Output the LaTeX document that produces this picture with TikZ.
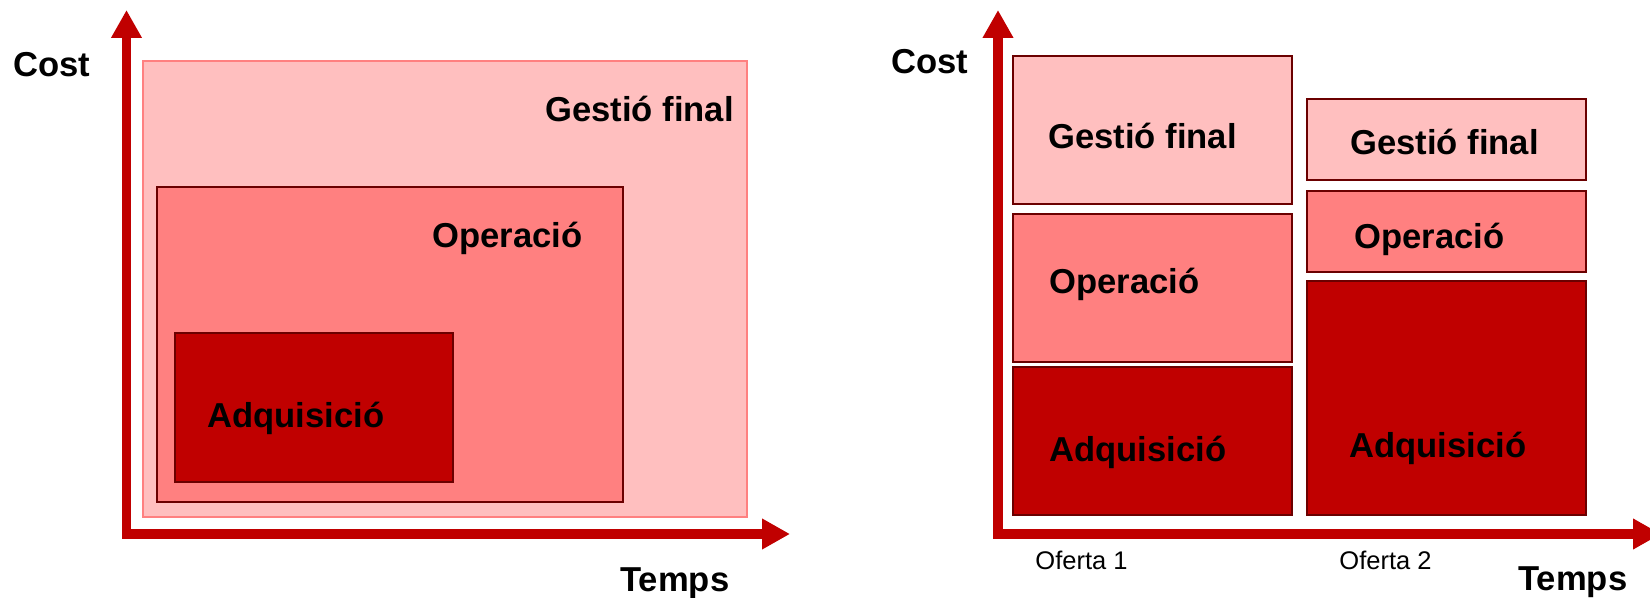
\documentclass[tikz,border=0pt]{standalone}
\usepackage{fontspec}
\setmainfont{Liberation Sans}
\usetikzlibrary{arrows.meta}
\definecolor{lightp}{HTML}{FFBFBF}
\definecolor{midp}{HTML}{FF8080}
\definecolor{darkr}{HTML}{C00000}
\definecolor{edge}{HTML}{6B0000}
\tikzset{
  axisline/.style={draw=darkr, line width=4.75pt, line join=miter,
    arrows={Triangle[length=14pt,width=14.5pt]-Triangle[length=14pt,width=14.5pt]}, darkr},
  lbl/.style={anchor=base west, inner sep=0pt, font=\fontsize{17.3pt}{20pt}\selectfont\bfseries},
  small/.style={anchor=base west, inner sep=0pt, font=\fontsize{12.75pt}{15pt}\selectfont},
  boxL/.style={fill=lightp, draw=edge, line width=0.6pt},
  boxM/.style={fill=midp, draw=edge, line width=0.6pt},
  boxD/.style={fill=darkr, draw=edge, line width=0.6pt},
}
\begin{document}
\begin{tikzpicture}[x=0.5pt,y=-0.5pt]
\useasboundingbox (0,0) rectangle (1650,598);
\clip (0,0) rectangle (1650,598);
% ---------------- left chart ----------------
\path[fill=lightp, draw=midp, line width=0.6pt] (143,61) rectangle (747,517);
\path[boxM] (157,187) rectangle (623,502);
\path[boxD] (175,333) rectangle (453,482);
\coordinate (LO) at (126.5,534);
\coordinate (LY) at (126.5,10);
\coordinate (LX) at (790,534);
\draw[axisline] (LY) -- (LO) -- (LX);
\node[lbl] (lcost) at (13,77) {Cost};
\node[lbl] (lgest) at (545,122) {Gestió final};
\node[lbl] (lop) at (432,248) {Operació};
\node[lbl] (lad) at (207,428) {Adquisició};
\node[lbl] (ltemps) at (620,591) {Temps};
% ---------------- right chart ----------------
\path[boxL] (1013,56) rectangle (1292,204);
\path[boxM] (1013,214) rectangle (1292,362);
\path[boxD] (1013,367) rectangle (1292,515);
\path[boxL] (1307,99) rectangle (1586,180);
\path[boxM] (1307,191) rectangle (1586,272);
\path[boxD] (1307,281) rectangle (1586,515);
\coordinate (RO) at (998,534);
\coordinate (RY) at (998,10);
\coordinate (RX) at (1661,534);
\draw[axisline] (RY) -- (RO) -- (RX);
\node[lbl] (rcost) at (891,74) {Cost};
\node[lbl] (rgest1) at (1048,149) {Gestió final};
\node[lbl] (rop1) at (1049,294) {Operació};
\node[lbl] (rad1) at (1049,462) {Adquisició};
\node[lbl] (rgest2) at (1350,155) {Gestió final};
\node[lbl] (rop2) at (1354,249) {Operació};
\node[lbl] (rad2) at (1349,458) {Adquisició};
\node[small] (of1) at (1035,570) {Oferta 1};
\node[small] (of2) at (1339,570) {Oferta 2};
\node[lbl] (rtemps) at (1518,590) {Temps};
\end{tikzpicture}
\end{document}
